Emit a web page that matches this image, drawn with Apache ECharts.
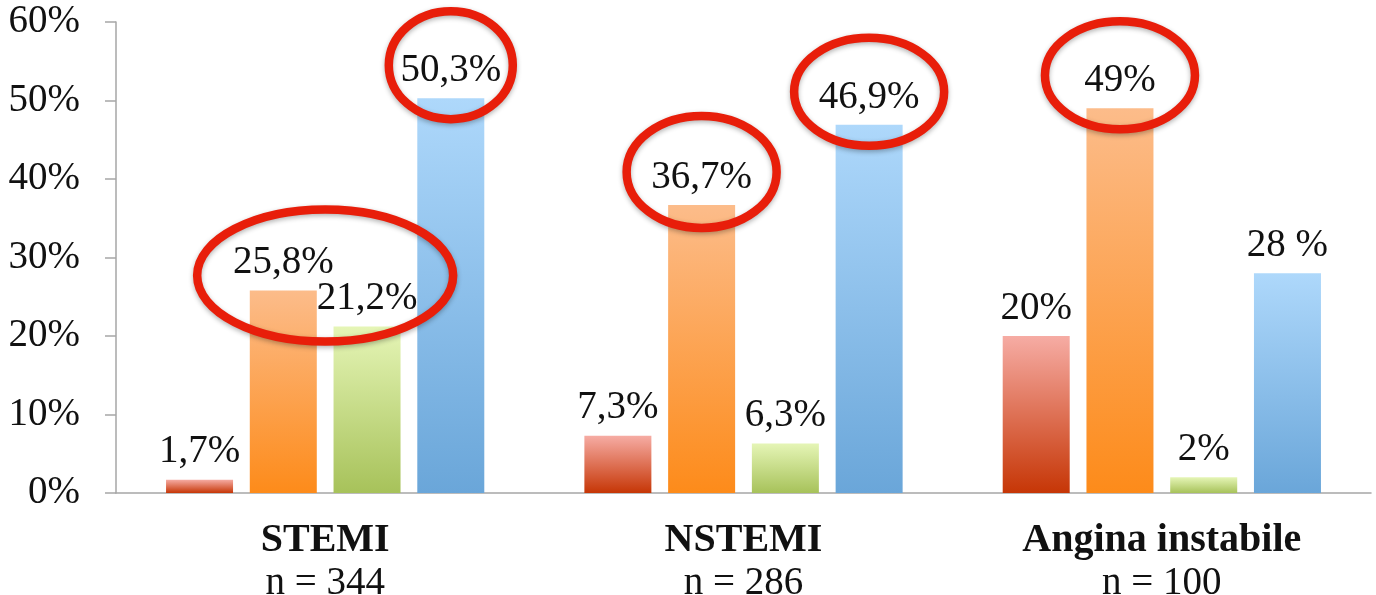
<!DOCTYPE html>
<html>
<head>
<meta charset="utf-8">
<style>
  html, body { margin: 0; padding: 0; background: #ffffff; overflow: hidden; }
  #chart { width: 1376px; height: 595px; }
</style>
<script src="https://cdn.jsdelivr.net/npm/echarts@6/dist/echarts.min.js"></script>
</head>
<body>
<div id="chart"></div>
<script>
// Categories and sample sizes
const categories = ['STEMI', 'NSTEMI', 'Angina instabile'];
const sampleSizes = ['n = 344', 'n = 286', 'n = 100'];

// Series values (percent) and their printed labels
const redValues = [1.7, 7.3, 20];
const redLabels = ['1,7%', '7,3%', '20%'];
const orangeValues = [25.8, 36.7, 49];
const orangeLabels = ['25,8%', '36,7%', '49%'];
const greenValues = [21.2, 6.3, 2];
const greenLabels = ['21,2%', '6,3%', '2%'];
const blueValues = [50.3, 46.9, 28];
const blueLabels = ['50,3%', '46,9%', '28 %'];

// Y axis ticks
const yTicks = [0, 10, 20, 30, 40, 50, 60];

const SERIF = '"Liberation Serif", "Times New Roman", "DejaVu Serif", serif';

function grad(top, bottom) {
  return new echarts.graphic.LinearGradient(0, 0, 0, 1, [
    { offset: 0, color: top },
    { offset: 1, color: bottom }
  ]);
}

function barSeries(name, values, labels, top, bottom) {
  return {
    name: name,
    type: 'bar',
    data: values,
    barWidth: 67,
    barGap: '25%',
    itemStyle: { color: grad(top, bottom) },
    label: {
      show: true,
      position: 'top',
      distance: 8,
      color: '#111111',
      fontFamily: SERIF,
      fontSize: 39,
      formatter: function (p) { return labels[p.dataIndex]; }
    }
  };
}

const chart = echarts.init(document.getElementById('chart'), null, { renderer: 'canvas' });

chart.setOption({
  backgroundColor: '#ffffff',
  animation: false,
  grid: {
    left: 116, right: 5, top: 22, bottom: 102,
    containLabel: false,
    outerBoundsMode: 'none'
  },
  xAxis: {
    type: 'category',
    data: categories,
    axisLine: { show: true, lineStyle: { color: '#a6a6a6', width: 1.5 } },
    axisTick: { show: false },
    axisLabel: {
      margin: 25,
      interval: 0,
      formatter: function (v, i) { return '{b|' + v + '}\n{n|' + sampleSizes[i] + '}'; },
      rich: {
        b: { fontFamily: SERIF, fontWeight: 'bold', fontSize: 40, color: '#111111', lineHeight: 46 },
        n: { fontFamily: SERIF, fontSize: 39, color: '#111111', lineHeight: 40 }
      }
    }
  },
  yAxis: {
    type: 'value',
    min: yTicks[0],
    max: yTicks[yTicks.length - 1],
    interval: yTicks[1] - yTicks[0],
    splitLine: { show: false },
    axisLine: { show: true, lineStyle: { color: '#a6a6a6', width: 1.5 } },
    axisTick: { show: true, length: 11, lineStyle: { color: '#a6a6a6', width: 1.5 } },
    axisLabel: {
      margin: 36,
      fontFamily: SERIF,
      fontSize: 39,
      color: '#111111',
      formatter: '{value}%'
    }
  },
  series: [
    barSeries('rosso', redValues, redLabels, '#f6aca4', '#c63606'),
    barSeries('arancio', orangeValues, orangeLabels, '#fcbc8a', '#fd8b1a'),
    barSeries('verde', greenValues, greenLabels, '#e5f5b6', '#a7c25a'),
    barSeries('blu', blueValues, blueLabels, '#aed8fb', '#6aa6d9')
  ]
});

// Red ellipses drawn around the highlighted value labels,
// positioned from the laid-out bars.
const highlights = [
  { series: [1, 2], cat: 0, rx: 128, ry: 66 },
  { series: [3], cat: 0, rx: 62, ry: 54 },
  { series: [1], cat: 1, rx: 75, ry: 56 },
  { series: [3], cat: 1, rx: 75, ry: 54 },
  { series: [1], cat: 2, rx: 75, ry: 54 }
];

function barTop(seriesIndex, dataIndex) {
  const data = chart.getModel().getSeriesByIndex(seriesIndex).getData();
  const l = data.getItemLayout(dataIndex);
  return { x: l.x + l.width / 2, y: Math.min(l.y, l.y + l.height) };
}

const ellipses = highlights.map(function (h) {
  let sx = 0, sy = 0;
  h.series.forEach(function (s) {
    const p = barTop(s, h.cat);
    sx += p.x;
    sy += p.y - 31; // centre of the value label above the bar
  });
  return {
    type: 'ellipse',
    shape: { cx: sx / h.series.length, cy: sy / h.series.length - 2, rx: h.rx, ry: h.ry },
    style: {
      fill: 'none',
      stroke: '#e81e0a',
      lineWidth: 8.5,
      shadowBlur: 5,
      shadowOffsetY: 2,
      shadowColor: 'rgba(0,0,0,0.3)'
    },
    z: 100
  };
});

chart.setOption({ graphic: { elements: ellipses } });
</script>
</body>
</html>
